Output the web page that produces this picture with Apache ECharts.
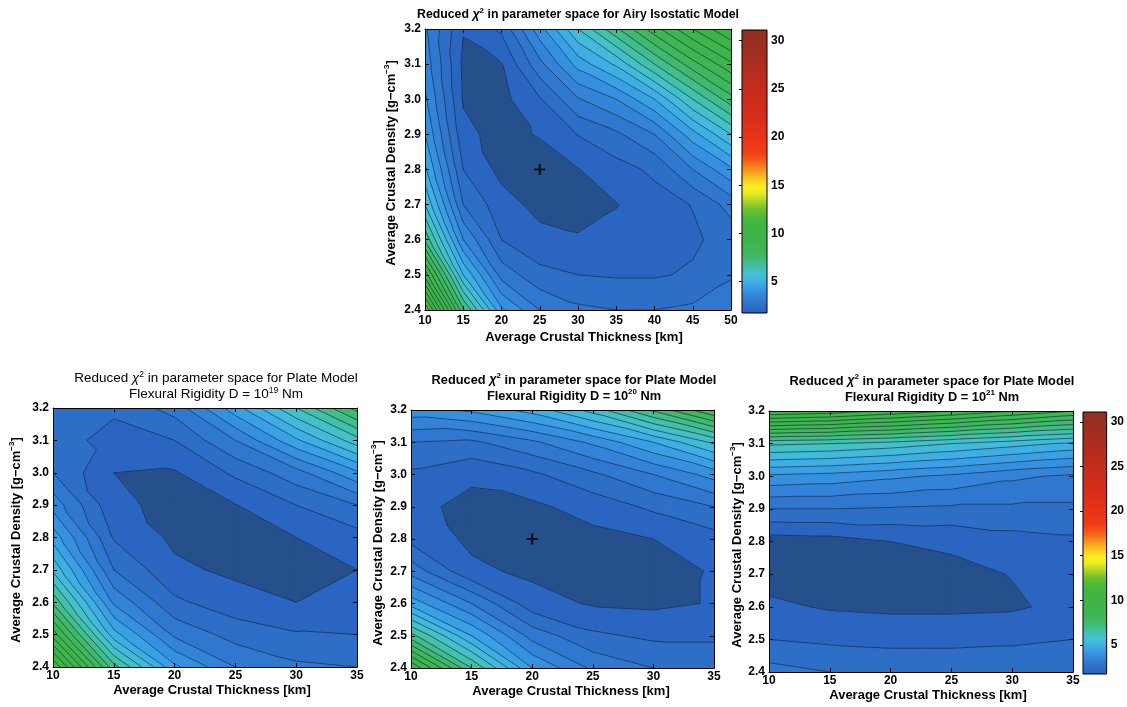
<!DOCTYPE html>
<html><head><meta charset="utf-8"><title>Reduced chi2</title>
<script src="https://cdn.jsdelivr.net/npm/echarts@6.0.0/dist/echarts.min.js"></script>
<style>html,body{margin:0;padding:0;background:#fff;}#chart{width:1127px;height:707px;}</style>
</head><body><div id="chart"></div>
<script>
// ---------------- data ----------------
const thicknessAiry = [10, 15, 20, 25, 30, 35, 40, 45, 50];
const thicknessPlate = [10, 15, 20, 25, 30, 35];
const densityGrid = [2.4, 2.5, 2.6, 2.7, 2.8, 2.9, 3.0, 3.1, 3.2];

// reduced chi^2, rows = density 2.4 ... 3.2, columns = thickness
const chiAiry = [
  [12.5, 7.6, 4.6, 3.5, 3.1, 3.0, 3.0, 3.1, 3.3],
  [9.8, 5.5, 3.3, 2.65, 2.5, 2.45, 2.45, 2.56, 2.95],
  [7.4, 4.0, 2.5, 2.15, 2.05, 2.15, 2.25, 2.42, 2.7],
  [6.0, 3.0, 2.2, 1.85, 1.8, 1.98, 2.3, 2.52, 3.2],
  [5.1, 2.5, 1.85, 1.65, 1.98, 2.3, 2.6, 3.5, 4.4],
  [4.5, 2.15, 1.8, 2.05, 2.52, 2.9, 3.5, 4.8, 6.0],
  [4.1, 1.95, 1.85, 2.45, 3.45, 4.0, 5.0, 6.5, 7.8],
  [3.8, 1.9, 1.98, 3.35, 4.7, 5.6, 7.0, 8.3, 9.4],
  [3.6, 2.03, 2.6, 4.3, 6.0, 7.4, 8.8, 10.0, 11.0]
];
const chiPlate19 = [
  [11.5, 7.2, 4.6, 3.5, 3.1, 3.0],
  [9.3, 5.2, 3.4, 2.8, 2.55, 2.5],
  [7.4, 3.9, 2.6, 2.2, 2.0, 2.1],
  [5.9, 3.0, 2.1, 1.9, 1.85, 2.0],
  [4.8, 2.45, 1.9, 1.85, 2.0, 2.3],
  [3.8, 2.12, 1.85, 1.98, 2.5, 3.0],
  [3.0, 2.0, 1.95, 2.6, 3.3, 4.4],
  [2.75, 2.3, 2.5, 3.5, 4.9, 6.3],
  [2.7, 2.6, 3.2, 4.8, 6.5, 8.2]
];
const chiPlate20 = [
  [10.0, 7.0, 4.5, 3.4, 3.0, 2.9],
  [7.2, 5.0, 3.3, 2.6, 2.4, 2.4],
  [4.8, 3.5, 2.2, 1.95, 1.9, 2.03],
  [3.3, 2.1, 1.9, 1.8, 1.85, 2.03],
  [2.35, 1.9, 1.7, 1.85, 2.0, 2.3],
  [2.15, 1.85, 1.9, 2.2, 2.6, 3.0],
  [2.4, 2.1, 2.4, 2.9, 3.5, 4.2],
  [3.0, 2.9, 3.4, 4.1, 5.0, 6.1],
  [4.3, 4.6, 5.2, 6.2, 7.6, 9.0]
];
const chiPlate21 = [
  [3.2, 3.0, 2.9, 2.9, 2.9, 3.0],
  [2.5, 2.4, 2.35, 2.35, 2.4, 2.5],
  [2.1, 1.95, 1.9, 1.9, 1.93, 2.15],
  [1.8, 1.75, 1.8, 1.85, 2.02, 2.2],
  [1.75, 1.8, 2.0, 2.1, 2.3, 2.4],
  [3.0, 3.0, 2.95, 2.9, 2.9, 2.9],
  [4.4, 4.3, 4.1, 3.9, 3.6, 3.4],
  [6.6, 6.5, 6.3, 6.0, 5.7, 5.4],
  [11.0, 10.8, 10.4, 10.0, 9.5, 9.0]
];
const bestFitAiry = [[25, 2.8]];
const bestFitPlate20 = [[20, 2.8]];

const contourLevels = [2.0, 2.5, 3.0, 3.5, 4.0, 4.5, 5.0, 5.5, 6.0, 6.5, 7.0, 7.5, 8.0, 8.5, 9.0, 9.5, 10.0, 10.5, 11.0, 11.5, 12.0, 12.5, 13.0, 13.5, 14.0];
const colorRange = [1.75, 31.1];
const colorbarTicks = [5, 10, 15, 20, 25, 30];
const thickTicksAiry = [10, 15, 20, 25, 30, 35, 40, 45, 50];
const thickTicksPlate = [10, 15, 20, 25, 30, 35];
const densityTicks = [2.4, 2.5, 2.6, 2.7, 2.8, 2.9, 3.0, 3.1, 3.2];

// ---------------- colour map (style) ----------------
const cmapStops = [
  [1.75, '#26508c'], [1.95, '#2a64c0'], [2.5, '#2d6ec6'], [3.0, '#3078cf'], [3.8, '#358ade'],
  [4.5, '#3aa0e6'], [5.2, '#40b4e4'], [5.8, '#44c0d4'], [6.4, '#44c0b0'], [7.0, '#42bc8c'],
  [7.6, '#40b868'], [8.3, '#3eb654'], [10.0, '#3cb448'], [11.5, '#44b83c'], [12.5, '#6cc030'],
  [13.3, '#a8d424'], [14.2, '#e8ec20'], [14.8, '#f8f020'], [15.5, '#f8d020'], [16.5, '#f89820'],
  [17.5, '#f46018'], [18.5, '#f03c14'], [20, '#e83418'], [22, '#d82e1a'], [25, '#c42c1c'],
  [28, '#a82e20'], [31.1, '#8c3020']
];
function hexRgb(h) { return [parseInt(h.substr(1, 2), 16), parseInt(h.substr(3, 2), 16), parseInt(h.substr(5, 2), 16)]; }
function cmap(v) {
  if (v <= cmapStops[0][0]) return cmapStops[0][1];
  for (let k = 1; k < cmapStops.length; k++) {
    if (v <= cmapStops[k][0]) {
      const a = hexRgb(cmapStops[k - 1][1]), b = hexRgb(cmapStops[k][1]);
      const t = (v - cmapStops[k - 1][0]) / (cmapStops[k][0] - cmapStops[k - 1][0]);
      return 'rgb(' + a.map((c, n) => Math.round(c + t * (b[n] - c))).join(',') + ')';
    }
  }
  return cmapStops[cmapStops.length - 1][1];
}

// ---------------- contouring helpers ----------------
function cellTriangles(xs, ys, Z, i, j) {
  const a = {x: xs[i], y: ys[j], v: Z[j][i]}, b = {x: xs[i + 1], y: ys[j], v: Z[j][i + 1]};
  const c = {x: xs[i + 1], y: ys[j + 1], v: Z[j + 1][i + 1]}, d = {x: xs[i], y: ys[j + 1], v: Z[j + 1][i]};
  if (Math.abs(a.v - c.v) <= Math.abs(b.v - d.v)) return [[a, b, c], [a, c, d]];
  return [[a, b, d], [b, c, d]];
}
function clipPoly(poly, L, keepAbove) {
  const out = [];
  for (let k = 0; k < poly.length; k++) {
    const A = poly[k], B = poly[(k + 1) % poly.length];
    const ina = keepAbove ? A.v >= L : A.v <= L;
    const inb = keepAbove ? B.v >= L : B.v <= L;
    if (ina) out.push(A);
    if (ina !== inb) {
      const t = (L - A.v) / (B.v - A.v);
      out.push({x: A.x + t * (B.x - A.x), y: A.y + t * (B.y - A.y), v: L});
    }
  }
  return out;
}
function fillRenderer(xs, ys, Z) {
  return function (params, api) {
    const i = api.value(2), j = api.value(3);
    const children = [];
    cellTriangles(xs, ys, Z, i, j).forEach(function (tri) {
      const vmin = Math.min(tri[0].v, tri[1].v, tri[2].v), vmax = Math.max(tri[0].v, tri[1].v, tri[2].v);
      for (let b = 0; b <= contourLevels.length; b++) {
        const lo = b === 0 ? -Infinity : contourLevels[b - 1];
        const hi = b === contourLevels.length ? Infinity : contourLevels[b];
        if (!(hi > vmin && lo <= vmax)) continue;
        let poly = tri;
        if (lo > -Infinity) poly = clipPoly(poly, lo, true);
        if (poly.length >= 3 && hi < Infinity) poly = clipPoly(poly, hi, false);
        if (poly.length < 3) continue;
        const pts = poly.map(p => api.coord([p.x, p.y]));
        const col = b === 0 ? cmap(colorRange[0]) : cmap(lo);
        children.push({type: 'polygon', shape: {points: pts}, style: {fill: col, stroke: col, lineWidth: 1.1, lineJoin: 'round'}});
      }
    });
    return {type: 'group', children: children};
  };
}
function lineRenderer(xs, ys, Z) {
  return function (params, api) {
    const i = api.value(2), j = api.value(3);
    const children = [];
    cellTriangles(xs, ys, Z, i, j).forEach(function (tri) {
      contourLevels.forEach(function (L) {
        const pts = [];
        for (let e = 0; e < 3; e++) {
          const A = tri[e], B = tri[(e + 1) % 3];
          if ((A.v < L) !== (B.v < L)) {
            const t = (L - A.v) / (B.v - A.v);
            pts.push([A.x + t * (B.x - A.x), A.y + t * (B.y - A.y)]);
          }
        }
        if (pts.length === 2) {
          const p1 = api.coord(pts[0]), p2 = api.coord(pts[1]);
          children.push({type: 'line', shape: {x1: p1[0], y1: p1[1], x2: p2[0], y2: p2[1]},
            style: {stroke: 'rgba(18,28,45,0.75)', lineWidth: 0.8}});
        }
      });
    });
    return {type: 'group', children: children};
  };
}

// ---------------- layout / option ----------------
const FONT = '"Liberation Sans", Arial, Helvetica, sans-serif';
const option = {backgroundColor: '#ffffff', animation: false, grid: [], xAxis: [], yAxis: [], series: [], graphic: []};
const tickLabel = {color: '#000', fontFamily: FONT, fontSize: 12, fontWeight: 'bold'};
const axisLineStyle = {color: '#000', width: 1};

function addPanel(cfg) {
  const gi = option.grid.length;
  option.grid.push(cfg.box);
  const xb = option.xAxis.length;
  const common = {gridIndex: gi, type: 'value', z: 10, splitLine: {show: false},
    axisLine: {show: true, onZero: false, lineStyle: axisLineStyle}};
  option.xAxis.push(Object.assign({}, common, {position: 'bottom', min: cfg.xs[0], max: cfg.xs[cfg.xs.length - 1],
    axisTick: {show: true, inside: true, length: 4, customValues: cfg.xTicks, lineStyle: axisLineStyle},
    axisLabel: Object.assign({customValues: cfg.xTicks, margin: cfg.xMargin}, tickLabel)}));
  option.xAxis.push(Object.assign({}, common, {position: 'top', min: cfg.xs[0], max: cfg.xs[cfg.xs.length - 1],
    axisTick: {show: true, inside: true, length: 4, customValues: cfg.xTicks, lineStyle: axisLineStyle},
    axisLabel: {show: false}}));
  const yl = option.yAxis.length;
  option.yAxis.push(Object.assign({}, common, {position: 'left', min: densityGrid[0], max: densityGrid[densityGrid.length - 1],
    axisTick: {show: true, inside: true, length: 4, customValues: densityTicks, lineStyle: axisLineStyle},
    axisLabel: Object.assign({customValues: densityTicks, margin: 4, formatter: v => v.toFixed(1)}, tickLabel)}));
  option.yAxis.push(Object.assign({}, common, {position: 'right', min: densityGrid[0], max: densityGrid[densityGrid.length - 1],
    axisTick: {show: true, inside: true, length: 4, customValues: densityTicks, lineStyle: axisLineStyle},
    axisLabel: {show: false}}));
  const cells = [];
  for (let j = 0; j < densityGrid.length - 1; j++)
    for (let i = 0; i < cfg.xs.length - 1; i++) cells.push([cfg.xs[i], densityGrid[j], i, j]);
  option.series.push({type: 'custom', xAxisIndex: xb, yAxisIndex: yl, data: cells, encode: {x: 0, y: 1},
    renderItem: fillRenderer(cfg.xs, densityGrid, cfg.Z), clip: true, silent: true, z: 2});
  option.series.push({type: 'custom', xAxisIndex: xb, yAxisIndex: yl, data: cells, encode: {x: 0, y: 1},
    renderItem: lineRenderer(cfg.xs, densityGrid, cfg.Z), clip: true, silent: true, z: 3});
  if (cfg.best) option.series.push({type: 'scatter', xAxisIndex: xb, yAxisIndex: yl, data: cfg.best,
    symbol: 'path://M4 0H6V4H10V6H6V10H4V6H0V4H4Z', symbolSize: 11, itemStyle: {color: '#000'}, silent: true, z: 6});
}

function addColorbar(box) {
  const gi = option.grid.length;
  option.grid.push(box);
  const xi = option.xAxis.length;
  option.xAxis.push({gridIndex: gi, type: 'value', min: 0, max: 1, show: false});
  const yi = option.yAxis.length;
  option.yAxis.push({gridIndex: gi, type: 'value', position: 'right', min: colorRange[0], max: colorRange[1], z: 10,
    splitLine: {show: false}, axisLine: {show: false},
    axisTick: {show: true, inside: true, length: 3, customValues: colorbarTicks, lineStyle: axisLineStyle},
    axisLabel: Object.assign({customValues: colorbarTicks, margin: 4}, tickLabel)});
  option.series.push({type: 'custom', xAxisIndex: xi, yAxisIndex: yi, data: [[0, colorRange[0], 1, colorRange[1]]],
    silent: true, z: 2,
    renderItem: function (params, api) {
      const p0 = api.coord([api.value(0), api.value(1)]), p1 = api.coord([api.value(2), api.value(3)]);
      const span = colorRange[1] - colorRange[0];
      const stops = cmapStops.map(s => ({offset: Math.min(1, Math.max(0, (s[0] - colorRange[0]) / span)), color: s[1]}));
      return {type: 'rect', shape: {x: p0[0], y: p1[1], width: p1[0] - p0[0], height: p0[1] - p1[1]},
        style: {fill: new echarts.graphic.LinearGradient(0, 1, 0, 0, stops), stroke: '#000', lineWidth: 1}};
    }});
}

addPanel({box: {left: 425, top: 29, width: 306, height: 281}, xs: thicknessAiry, xTicks: thickTicksAiry, Z: chiAiry, best: bestFitAiry, xMargin: 5});
addPanel({box: {left: 53, top: 408, width: 304, height: 259}, xs: thicknessPlate, xTicks: thickTicksPlate, Z: chiPlate19, xMargin: 3});
addPanel({box: {left: 411, top: 410, width: 303, height: 258}, xs: thicknessPlate, xTicks: thickTicksPlate, Z: chiPlate20, best: bestFitPlate20, xMargin: 3});
addPanel({box: {left: 769, top: 411, width: 304, height: 261}, xs: thicknessPlate, xTicks: thickTicksPlate, Z: chiPlate21, xMargin: 3});
addColorbar({left: 742, top: 30, width: 25, height: 283});
addColorbar({left: 1083, top: 412, width: 26, height: 262});

// ---------------- texts ----------------
const richBase = {
  sup: {fontSize: 8, fontWeight: 'bold', fontFamily: FONT, verticalAlign: 'top', lineHeight: 9, fill: '#000'},
  supn: {fontSize: 8.5, fontWeight: 'normal', fontFamily: FONT, verticalAlign: 'top', lineHeight: 9, fill: '#000'},
  chi: {fontSize: 12.5, fontWeight: 'bold', fontFamily: FONT, fontStyle: 'italic', lineHeight: 16, fill: '#000'},
  chin: {fontSize: 13, fontWeight: 'normal', fontFamily: FONT, fontStyle: 'italic', lineHeight: 16, fill: '#000'}
};
function txt(x, y, text, opts) {
  return Object.assign({type: 'text', x: x, y: y, silent: true, z: 100,
    style: Object.assign({text: text, fill: '#000', fontFamily: FONT, fontSize: 13, fontWeight: 'bold',
      align: 'center', verticalAlign: 'middle', lineHeight: 16, rich: richBase}, opts && opts.style)},
    opts && opts.el);
}
option.graphic.push(txt(578, 15, 'Reduced {chi|χ}{sup|2} in parameter space for Airy Isostatic Model', {style: {fontSize: 12.3}}));
option.graphic.push(txt(216, 386, 'Reduced {chin|χ}{supn|2} in parameter space for Plate Model\nFlexural Rigidity D = 10{supn|19} Nm', {style: {fontSize: 13.5, fontWeight: 'normal', lineHeight: 16}}));
option.graphic.push(txt(574, 388, 'Reduced {chi|χ}{sup|2} in parameter space for Plate Model\nFlexural Rigidity D = 10{sup|20} Nm', {style: {fontSize: 12.8}}));
option.graphic.push(txt(932, 389, 'Reduced {chi|χ}{sup|2} in parameter space for Plate Model\nFlexural Rigidity D = 10{sup|21} Nm', {style: {fontSize: 12.8}}));
const xName = 'Average Crustal Thickness [km]';
const yName = 'Average Crustal Density [g\u2212cm{sup|\u22123}]';
option.graphic.push(txt(584, 337, xName));
option.graphic.push(txt(212, 690, xName));
option.graphic.push(txt(571, 691, xName));
option.graphic.push(txt(928, 695, xName));
option.graphic.push(txt(391, 163, yName, {el: {rotation: Math.PI / 2}}));
option.graphic.push(txt(16, 540, yName, {el: {rotation: Math.PI / 2}}));
option.graphic.push(txt(378, 543, yName, {el: {rotation: Math.PI / 2}}));
option.graphic.push(txt(737, 545, yName, {el: {rotation: Math.PI / 2}}));

const chart = echarts.init(document.getElementById('chart'), null, {renderer: 'canvas', width: 1127, height: 707});
chart.setOption(option);
</script></body></html>
